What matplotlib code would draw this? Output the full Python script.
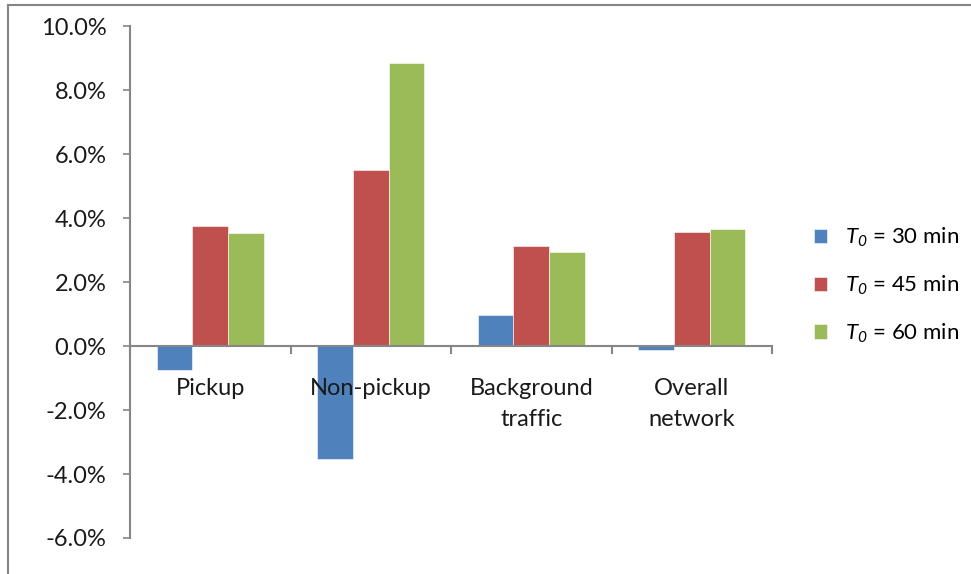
import matplotlib
matplotlib.use("Agg")
import matplotlib.pyplot as plt
import numpy as np
from matplotlib.lines import Line2D

plt.rcParams['font.family'] = ['Lato', 'DejaVu Sans']
plt.rcParams['mathtext.fontset'] = 'custom'
plt.rcParams['mathtext.it'] = 'Lato:italic'
plt.rcParams['mathtext.rm'] = 'Lato:italic'

categories = ["Pickup", "Non-pickup", "Background\ntraffic", "Overall\nnetwork"]
series_labels = [r"$T_{0}$ = 30 min", r"$T_{0}$ = 45 min", r"$T_{0}$ = 60 min"]
t30 = [-0.74, -3.52, 0.97, -0.13]
t45 = [3.77, 5.51, 3.12, 3.57]
t60 = [3.54, 8.85, 2.94, 3.67]
colors = ["#4F81BD", "#C0504D", "#9BBB59"]
yticks = [-6, -4, -2, 0, 2, 4, 6, 8, 10]

W, H = 971, 574
fig = plt.figure(figsize=(W / 100, H / 100), dpi=100)
ax = fig.add_axes([130 / W, 1 - 538 / H, (772 - 130) / W, (538 - 26.4) / H])

x = np.arange(len(categories))
bw = 0.223
gray = "#868686"
fs = 17
for i, (vals, lab, c) in enumerate(zip([t30, t45, t60], series_labels, colors)):
    ax.bar(x + (i - 1) * bw, vals, width=bw, color=c, label=lab,
           edgecolor="white", linewidth=0.4, zorder=2)

ax.set_xlim(-0.5, len(categories) - 0.5)
ax.set_ylim(-6, 10)
ax.set_yticks(yticks)
ax.set_yticklabels([f"{v:.1f}%" for v in yticks], fontsize=fs, color="#1a1a1a")
ax.tick_params(axis="y", direction="out", length=5, width=1.2, color=gray, pad=12)

for s in ["top", "right", "bottom"]:
    ax.spines[s].set_visible(False)
ax.spines["left"].set_color(gray)
ax.spines["left"].set_linewidth(1.5)
ax.axhline(0, color=gray, linewidth=1.5, zorder=3)

# category boundary ticks on zero line
ax.set_xticks([])
for b in np.arange(len(categories) + 1) - 0.5:
    ax.plot([b, b], [0, -0.2], color=gray, linewidth=1.5, clip_on=False, zorder=3)

for xi, lab in zip(x, categories):
    ax.text(xi, -1.0, lab, ha="center", va="top", fontsize=fs,
            color="#1a1a1a", linespacing=1.6)

leg = fig.legend(loc="upper left", bbox_to_anchor=(805 / W, 1 - 217 / H),
                 frameon=False, fontsize=16, handlelength=0.6, handleheight=0.6,
                 handletextpad=0.8, labelspacing=1.1, borderaxespad=0.0)

# outer chart border (top and left)
fig.add_artist(Line2D([8 / W, 8 / W], [0, 1 - 5 / H], color=gray, linewidth=1.5,
                      transform=fig.transFigure))
fig.add_artist(Line2D([8 / W, 1], [1 - 5 / H, 1 - 5 / H], color=gray, linewidth=1.5,
                      transform=fig.transFigure))

fig.savefig("out.png", dpi=100)
